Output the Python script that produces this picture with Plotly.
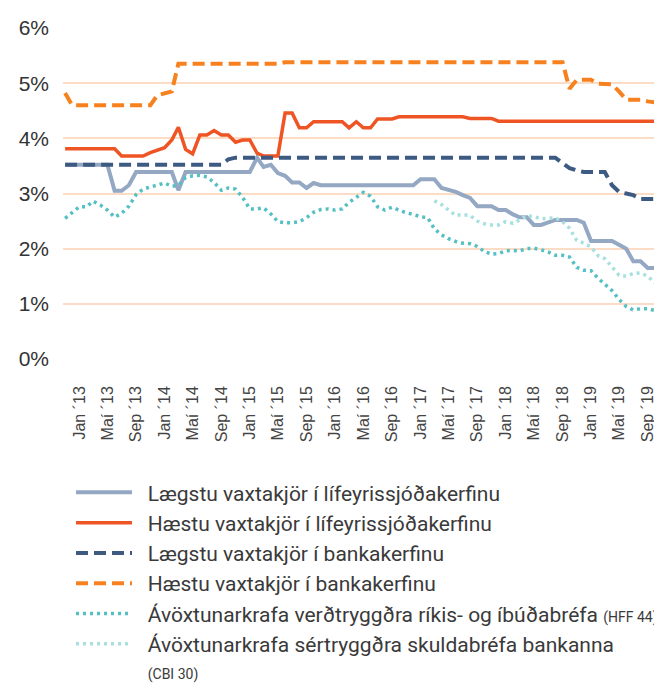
import plotly.graph_objects as go
import pandas as pd

# Monthly data, Nov 2012 - Nov 2019
months = pd.date_range("2012-11-01", periods=85, freq="MS")

laegstu_lif = [3.52, 3.52, 3.52, 3.52, 3.52, 3.52, 3.52, 3.05, 3.05, 3.15,
               3.39, 3.39, 3.39, 3.39, 3.39, 3.39, 3.06, 3.39, 3.39, 3.39,
               3.39, 3.39, 3.39, 3.39, 3.39, 3.39, 3.39, 3.65, 3.48, 3.52,
               3.37, 3.32, 3.20, 3.20, 3.10, 3.19, 3.15, 3.15, 3.15, 3.15,
               3.15, 3.15, 3.15, 3.15, 3.15, 3.15, 3.15, 3.15, 3.15, 3.15,
               3.26, 3.26, 3.26, 3.10, 3.06, 3.03, 2.97, 2.92, 2.77, 2.77,
               2.77, 2.70, 2.70, 2.62, 2.57, 2.57, 2.43, 2.43, 2.48, 2.52,
               2.52, 2.52, 2.52, 2.47, 2.14, 2.14, 2.14, 2.14, 2.07, 2.00,
               1.77, 1.77, 1.65, 1.65, 1.65]

haestu_lif = [3.81, 3.81, 3.81, 3.81, 3.81, 3.81, 3.81, 3.81, 3.68, 3.68,
              3.68, 3.68, 3.74, 3.78, 3.83, 3.97, 4.20, 3.80, 3.72, 4.06,
              4.06, 4.14, 4.06, 4.06, 3.93, 3.97, 3.97, 3.73, 3.68, 3.68,
              3.68, 4.46, 4.46, 4.19, 4.19, 4.30, 4.30, 4.30, 4.30, 4.30,
              4.19, 4.30, 4.19, 4.19, 4.35, 4.35, 4.35, 4.39, 4.39, 4.39,
              4.39, 4.39, 4.39, 4.39, 4.39, 4.39, 4.39, 4.36, 4.36, 4.36,
              4.36, 4.31, 4.31, 4.31, 4.31, 4.31, 4.31, 4.31, 4.31, 4.31,
              4.31, 4.31, 4.31, 4.31, 4.31, 4.31, 4.31, 4.31, 4.31, 4.31,
              4.31, 4.31, 4.31, 4.31, 4.31]

laegstu_banka = [3.52] * 23 + [3.62] + [3.65] * 46 + \
                [3.55, 3.46, 3.42, 3.39, 3.39, 3.39, 3.39, 3.15, 3.03, 3.00,
                 2.97, 2.90, 2.90, 2.90]

haestu_banka = [4.82] + [4.60] * 12 + [4.78, 4.82, 4.85] + [5.35] * 15 + \
               [5.38] * 40 + \
               [4.90, 5.06, 5.06, 5.06, 4.99, 4.98, 4.98, 4.85, 4.70, 4.70,
                4.70, 4.67, 4.65, 4.63]

hff44 = [2.55, 2.66, 2.76, 2.76, 2.86, 2.79, 2.70, 2.57, 2.64, 2.77,
         2.98, 3.08, 3.12, 3.15, 3.19, 3.13, 3.15, 3.29, 3.32, 3.33,
         3.30, 3.20, 3.06, 3.10, 3.08, 2.93, 2.72, 2.72, 2.74, 2.63,
         2.49, 2.47, 2.47, 2.49, 2.56, 2.66, 2.71, 2.72, 2.70, 2.72,
         2.84, 2.93, 3.02, 2.95, 2.76, 2.70, 2.75, 2.70, 2.65, 2.62,
         2.58, 2.56, 2.36, 2.25, 2.18, 2.13, 2.10, 2.09, 2.04, 1.95,
         1.90, 1.91, 1.96, 1.97, 1.96, 2.00, 2.01, 1.98, 1.94, 1.88,
         1.88, 1.85, 1.66, 1.61, 1.60, 1.46, 1.36, 1.24, 1.08, 0.95,
         0.89, 0.91, 0.91, 0.88, 0.87]

cbi30 = [None] * 52 + \
        [2.87, 2.80, 2.70, 2.60, 2.62, 2.60, 2.50, 2.45, 2.43, 2.43,
         2.49, 2.46, 2.52, 2.60, 2.58, 2.54, 2.55, 2.56, 2.49, 2.37,
         2.15, 2.10, 2.03, 1.87, 1.82, 1.67, 1.52, 1.50, 1.55, 1.56,
         1.50, 1.38, 1.33]

PAD = "\u2002"
names = [
    PAD + "Lægstu vaxtakjör í lífeyrissjóðakerfinu",
    PAD + "Hæstu vaxtakjör í lífeyrissjóðakerfinu",
    PAD + "Lægstu vaxtakjör í bankakerfinu",
    PAD + "Hæstu vaxtakjör í bankakerfinu",
    PAD + "Ávöxtunarkrafa verðtryggðra ríkis- og íbúðabréfa <span style='font-size:14px'>(HFF 44)</span>",
    PAD + "Ávöxtunarkrafa sértryggðra skuldabréfa bankanna<br>" + PAD + "<span style='font-size:14px'>(CBI 30)</span>",
]

tick_dates = pd.date_range("2013-01-01", "2019-09-01", freq="4MS")
month_is = {1: "Jan", 5: "Maí", 9: "Sep"}
tick_text = [f"{month_is[d.month]} ´{d.strftime('%y')}" for d in tick_dates]

y_ticks = [0, 1, 2, 3, 4, 5, 6]
y_text = [f"{v}%" for v in y_ticks]

styles = [
    dict(color="#94A7C3", width=4, dash="solid"),
    dict(color="#EF5424", width=3.5, dash="solid"),
    dict(color="#3D5A82", width=4, dash="12px,6px"),
    dict(color="#F7811F", width=4, dash="12px,6px"),
    dict(color="#55C0C4", width=3.5, dash="3px,4px"),
    dict(color="#A9DFDF", width=3.5, dash="3px,4px"),
]
series = [laegstu_lif, haestu_lif, laegstu_banka, haestu_banka, hff44, cbi30]

fig = go.Figure()
for i, (nm, s, st) in enumerate(zip(names, series, styles)):
    fig.add_trace(go.Scatter(x=months, y=s, name=nm, mode="lines",
                             line=st, legendgroup=f"g{i}",
                             connectgaps=False))

# page body has an 8px default margin, so the figure is 8px smaller
fig.update_layout(
    width=654, height=683,
    margin=dict(l=55, r=0, t=20, b=332, autoexpand=False),
    paper_bgcolor="white", plot_bgcolor="white",
    font=dict(family="Liberation Sans, Arial, sans-serif", color="#333333"),
    showlegend=True,
    legend=dict(
        x=0.0134, xanchor="left", y=-0.342, yanchor="top",
        orientation="v", itemwidth=56, valign="top",
        tracegroupgap=0,
        font=dict(family="Roboto, sans-serif", size=21, color="#3a3a3a"),
        bgcolor="rgba(0,0,0,0)",
    ),
)
fig.update_xaxes(
    range=["2012-10-23", "2019-11-01"],
    tickvals=tick_dates, ticktext=tick_text, tickangle=-90,
    tickfont=dict(size=16, color="#444444"),
    showgrid=False, zeroline=False, showline=False, ticks="",
    ticklabelstandoff=23, automargin=False,
)
fig.update_yaxes(
    range=[0, 6], tickvals=y_ticks, ticktext=y_text,
    tickfont=dict(size=21, color="#333333"),
    showgrid=True, gridcolor="#FCDCC4", gridwidth=1.5,
    zeroline=False, showline=False, ticks="",
    ticklabelstandoff=13, automargin=False,
)

fig.write_html("out.html")
